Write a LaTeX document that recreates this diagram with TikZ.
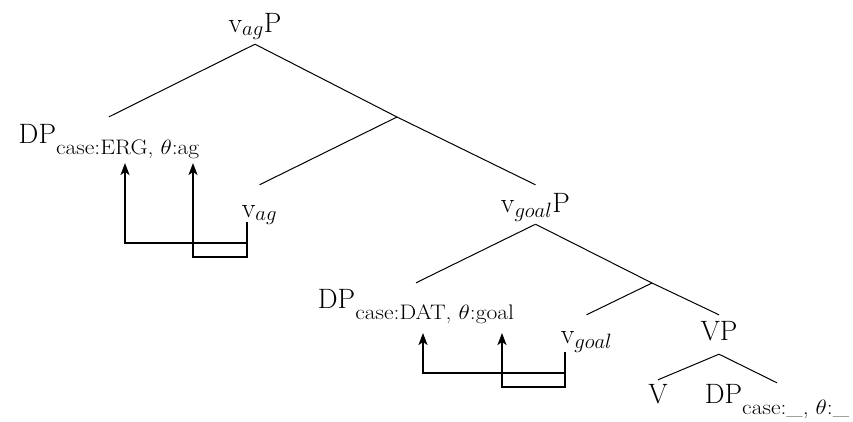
\documentclass[tikz,border=0pt]{standalone}
\usepackage{amsmath}
\usepackage{graphicx}
\usetikzlibrary{arrows.meta}

% feature subscript: lowered, slightly widened text
\newcommand{\featsub}[1]{\raisebox{-11pt}{\scalebox{1.12}[1]{\fontsize{21}{24}\selectfont #1}}}

\tikzset{
  tn/.style={inner sep=0pt, anchor=base, font=\fontsize{28}{32}\selectfont},
  branch/.style={line width=1pt},
  feat/.style={line width=1.8pt, -{Stealth[length=12pt,width=9pt,inset=3pt]}},
}

\begin{document}
\begin{tikzpicture}[x=1pt, y=-1pt]
\useasboundingbox (0,0) rectangle (853,421);

% tree nodes
\node[tn, text depth=12pt] (vagP) at (255,32) {v$_{ag}$P};
\node[tn, text height=26pt] (dperg) at (109,143) {DP\featsub{case:ERG, $\theta$:ag}};
\coordinate (j1) at (397,117);
\node[tn, text height=32pt] (vag) at (259.5,217) {v$_{ag}$};
\node[tn, text height=27pt, text depth=12pt] (vgoalP) at (535.5,212) {v$_{goal}$P};
\node[tn, text height=25pt] (dpdat) at (416,308) {DP\featsub{case:DAT, $\theta$:goal}};
\coordinate (j2) at (652,283);
\node[tn, text height=28pt] (vgoal) at (586.5,343) {v$_{goal}$};
\node[tn, text height=25pt, text depth=14pt] (vp) at (719,340) {VP};
\node[tn, text height=23pt] (v) at (658,403) {V};
\node[tn, text height=20pt] (dpnone) at (777,403) {DP\featsub{case:\_, $\theta$:\_}};

% branches
\draw[branch] (vagP.south) -- (dperg.north);
\draw[branch] (vagP.south) -- (j1);
\draw[branch] (j1) -- (vag.north);
\draw[branch] (j1) -- (vgoalP.north);
\draw[branch] (vgoalP.south) -- (dpdat.north);
\draw[branch] (vgoalP.south) -- (j2);
\draw[branch] (j2) -- (vgoal.north);
\draw[branch] (j2) -- (vp.north);
\draw[branch] (vp.south) -- (v.north);
\draw[branch] (vp.south) -- (dpnone.north);

% feature valuation arrows
\coordinate (vag-s) at (247,222);
\coordinate (erg-t) at (125,163);
\coordinate (ag-t) at (193,163);
\draw[feat] (vag-s) -- ++(0,21) -| (erg-t);
\draw[feat] (vag-s) -- ++(0,35) -| (ag-t);

\coordinate (vgoal-s) at (565,352);
\coordinate (dat-t) at (423,333);
\coordinate (goal-t) at (502,333);
\draw[feat] (vgoal-s) -- ++(0,21) -| (dat-t);
\draw[feat] (vgoal-s) -- ++(0,35) -| (goal-t);
\end{tikzpicture}
\end{document}
